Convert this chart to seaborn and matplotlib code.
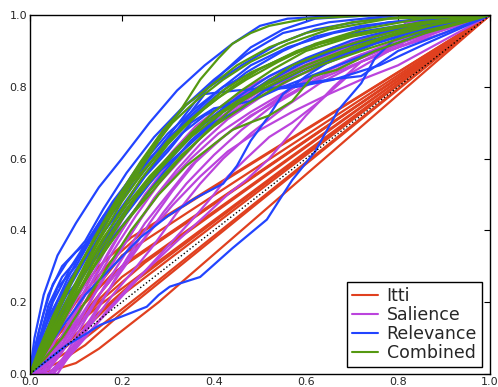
import matplotlib
matplotlib.use("Agg")
import matplotlib.pyplot as plt
import pandas as pd
import seaborn as sns

# ROC curves (false positive rate, true positive rate), one list per curve
itti_curves = [
    [(0, 0), (0.02, 0.05), (0.08, 0.18), (0.15, 0.30), (0.22, 0.38), (1, 1)],
    [(0, 0), (0.03, 0.06), (0.10, 0.20), (0.18, 0.32), (0.25, 0.40), (1, 1)],
    [(0, 0), (0.04, 0.05), (0.12, 0.20), (0.20, 0.33), (1, 1)],
    [(0, 0), (0.05, 0.08), (0.12, 0.17), (0.20, 0.27), (1, 1)],
    [(0, 0), (0.05, 0.07), (0.15, 0.20), (0.25, 0.31), (1, 1)],
    [(0, 0), (0.06, 0.06), (0.14, 0.16), (0.22, 0.25), (1, 1)],
    [(0, 0), (0.04, 0.03), (0.10, 0.10), (0.18, 0.20), (1, 1)],
    [(0, 0), (0.06, 0.03), (0.12, 0.08), (0.20, 0.17), (1, 1)],
    [(0, 0), (0.05, 0.01), (0.10, 0.03), (0.15, 0.07), (0.20, 0.12), (0.28, 0.20), (1, 1)],
    [(0, 0), (0.08, 0.06), (0.16, 0.14), (0.24, 0.22), (1, 1)],
    [(0, 0), (0.03, 0.04), (0.10, 0.14), (0.20, 0.30), (1, 1)],
    [(0, 0), (0.02, 0.04), (0.10, 0.17), (0.18, 0.28), (1, 1)],
    [(0, 0), (0.05, 0.09), (0.14, 0.23), (0.22, 0.32), (1, 1)],
    [(0, 0), (0.07, 0.10), (0.15, 0.19), (1, 1)],
]

salience_curves = [
    [(0, 0), (0.04, 0.0), (0.06, 0.02), (0.09, 0.08), (0.12, 0.15), (0.16, 0.24), (0.2, 0.32), (0.25, 0.42), (0.3, 0.5), (0.35, 0.58), (0.4, 0.64), (0.46, 0.7), (0.53, 0.76), (0.6, 0.82), (0.7, 0.88), (0.8, 0.93), (0.9, 0.97), (1, 1)],
    [(0, 0), (0.03, 0.01), (0.06, 0.06), (0.1, 0.15), (0.14, 0.25), (0.18, 0.34), (0.23, 0.44), (0.28, 0.53), (0.33, 0.6), (0.38, 0.67), (0.44, 0.73), (0.5, 0.78), (0.58, 0.84), (0.67, 0.89), (0.78, 0.94), (0.9, 0.98), (1, 1)],
    [(0, 0), (0.05, 0.0), (0.07, 0.03), (0.1, 0.08), (0.14, 0.15), (0.18, 0.22), (0.22, 0.28), (0.27, 0.36), (0.32, 0.45), (0.37, 0.53), (0.42, 0.6), (0.48, 0.67), (0.55, 0.74), (0.63, 0.81), (0.72, 0.87), (0.82, 0.93), (1, 1)],
    [(0, 0), (0.05, 0.0), (0.08, 0.04), (0.12, 0.1), (0.17, 0.18), (0.22, 0.25), (0.27, 0.31), (0.32, 0.37), (0.38, 0.44), (0.43, 0.5), (0.47, 0.54), (0.52, 0.6), (0.56, 0.66), (0.6, 0.72), (0.66, 0.8), (0.72, 0.87), (0.8, 0.91), (0.9, 0.96), (1, 1)],
    [(0, 0), (0.02, 0.01), (0.05, 0.06), (0.08, 0.13), (0.12, 0.22), (0.16, 0.31), (0.2, 0.4), (0.25, 0.5), (0.3, 0.58), (0.36, 0.66), (0.42, 0.72), (0.49, 0.78), (0.57, 0.84), (0.66, 0.89), (0.77, 0.94), (0.88, 0.97), (1, 1)],
    [(0, 0), (0.04, 0.01), (0.07, 0.06), (0.11, 0.14), (0.15, 0.22), (0.2, 0.3), (0.25, 0.38), (0.31, 0.47), (0.37, 0.55), (0.43, 0.62), (0.5, 0.68), (0.57, 0.73), (0.65, 0.78), (0.72, 0.82), (0.8, 0.86), (0.9, 0.93), (1, 1)],
    [(0, 0), (0.03, 0.0), (0.06, 0.05), (0.1, 0.13), (0.14, 0.22), (0.19, 0.33), (0.24, 0.43), (0.29, 0.52), (0.35, 0.6), (0.41, 0.67), (0.48, 0.73), (0.56, 0.79), (0.64, 0.84), (0.72, 0.89), (0.81, 0.92), (0.815, 0.98), (0.9, 0.99), (1, 1)],
    [(0, 0), (0.02, 0.0), (0.05, 0.04), (0.09, 0.12), (0.13, 0.2), (0.17, 0.29), (0.22, 0.39), (0.27, 0.49), (0.32, 0.57), (0.37, 0.64), (0.43, 0.71), (0.5, 0.77), (0.58, 0.83), (0.68, 0.89), (0.8, 0.95), (1, 1)],
    [(0, 0), (0.05, 0.0), (0.08, 0.05), (0.11, 0.11), (0.15, 0.19), (0.19, 0.27), (0.24, 0.36), (0.29, 0.45), (0.34, 0.53), (0.4, 0.61), (0.46, 0.68), (0.53, 0.75), (0.61, 0.81), (0.7, 0.86), (0.8, 0.91), (0.9, 0.95), (1, 1)],
    [(0, 0), (0.03, 0.02), (0.06, 0.08), (0.09, 0.16), (0.13, 0.26), (0.17, 0.36), (0.21, 0.45), (0.26, 0.54), (0.31, 0.62), (0.36, 0.69), (0.42, 0.75), (0.49, 0.81), (0.57, 0.86), (0.66, 0.91), (0.77, 0.95), (0.88, 0.98), (1, 1)],
    [(0, 0), (0.04, 0.0), (0.07, 0.04), (0.11, 0.09), (0.16, 0.16), (0.21, 0.23), (0.26, 0.3), (0.31, 0.37), (0.36, 0.44), (0.4, 0.5), (0.43, 0.55), (0.47, 0.6), (0.52, 0.66), (0.57, 0.7), (0.63, 0.76), (0.7, 0.84), (0.78, 0.9), (0.88, 0.95), (1, 1)],
    [(0, 0), (0.03, 0.01), (0.06, 0.07), (0.1, 0.17), (0.14, 0.27), (0.18, 0.36), (0.23, 0.46), (0.28, 0.55), (0.33, 0.62), (0.38, 0.68), (0.44, 0.74), (0.5, 0.79), (0.56, 0.82), (0.62, 0.85), (0.7, 0.9), (0.8, 0.95), (1, 1)],
    [(0, 0), (0.06, 0.0), (0.09, 0.06), (0.13, 0.14), (0.17, 0.23), (0.21, 0.32), (0.26, 0.42), (0.31, 0.51), (0.36, 0.59), (0.42, 0.66), (0.48, 0.72), (0.55, 0.77), (0.62, 0.82), (0.7, 0.87), (0.8, 0.92), (0.9, 0.96), (1, 1)],
    [(0, 0), (0.02, 0.02), (0.05, 0.08), (0.08, 0.16), (0.12, 0.25), (0.16, 0.35), (0.2, 0.44), (0.25, 0.53), (0.3, 0.6), (0.35, 0.67), (0.41, 0.73), (0.48, 0.79), (0.56, 0.84), (0.65, 0.89), (0.75, 0.94), (0.87, 0.98), (1, 1)],
]

relevance_curves = [
    [(0, 0), (0.01, 0.1), (0.03, 0.22), (0.06, 0.33), (0.1, 0.42), (0.15, 0.52), (0.2, 0.6), (0.26, 0.7), (0.32, 0.79), (0.38, 0.86), (0.44, 0.92), (0.5, 0.97), (0.56, 0.99), (0.7, 1), (1, 1)],
    [(0, 0), (0.02, 0.12), (0.04, 0.22), (0.07, 0.3), (0.1, 0.34), (0.13, 0.37), (0.17, 0.45), (0.22, 0.55), (0.28, 0.66), (0.34, 0.75), (0.4, 0.82), (0.47, 0.89), (0.55, 0.95), (0.65, 0.98), (0.8, 1), (1, 1)],
    [(0, 0), (0.02, 0.08), (0.05, 0.2), (0.09, 0.3), (0.13, 0.38), (0.18, 0.48), (0.24, 0.58), (0.3, 0.67), (0.36, 0.74), (0.42, 0.8), (0.5, 0.85), (0.6, 0.91), (0.7, 0.95), (0.85, 0.98), (1, 1)],
    [(0, 0), (0.01, 0.05), (0.04, 0.15), (0.08, 0.26), (0.12, 0.36), (0.16, 0.44), (0.2, 0.5), (0.26, 0.6), (0.32, 0.68), (0.38, 0.78), (0.45, 0.79), (0.55, 0.8), (0.65, 0.82), (0.72, 0.83), (0.8, 0.9), (0.9, 0.95), (1, 1)],
    [(0, 0), (0.03, 0.1), (0.06, 0.2), (0.1, 0.28), (0.15, 0.38), (0.2, 0.46), (0.25, 0.55), (0.3, 0.62), (0.35, 0.7), (0.4, 0.74), (0.48, 0.76), (0.55, 0.8), (0.65, 0.85), (0.75, 0.9), (0.88, 0.96), (1, 1)],
    [(0, 0), (0.02, 0.06), (0.06, 0.16), (0.1, 0.25), (0.14, 0.33), (0.19, 0.42), (0.24, 0.5), (0.3, 0.6), (0.36, 0.68), (0.44, 0.75), (0.52, 0.82), (0.6, 0.87), (0.7, 0.92), (0.8, 0.96), (1, 1)],
    [(0, 0), (0.03, 0.06), (0.07, 0.13), (0.12, 0.22), (0.18, 0.3), (0.24, 0.38), (0.3, 0.44), (0.36, 0.49), (0.42, 0.53), (0.45, 0.58), (0.48, 0.65), (0.52, 0.72), (0.55, 0.78), (0.6, 0.83), (0.645, 0.866), (0.75, 0.92), (0.88, 0.97), (1, 1)],
    [(0, 0), (0.04, 0.04), (0.08, 0.08), (0.12, 0.11), (0.152, 0.136), (0.2, 0.16), (0.254, 0.187), (0.28, 0.22), (0.304, 0.243), (0.37, 0.27), (0.44, 0.35), (0.515, 0.43), (0.57, 0.54), (0.62, 0.62), (0.67, 0.735), (0.72, 0.81), (0.75, 0.88), (0.79, 0.93), (0.9, 0.97), (1, 1)],
    [(0, 0), (0.02, 0.1), (0.05, 0.18), (0.09, 0.27), (0.13, 0.35), (0.17, 0.43), (0.22, 0.52), (0.27, 0.6), (0.33, 0.69), (0.4, 0.77), (0.47, 0.84), (0.55, 0.9), (0.62, 0.94), (0.72, 0.97), (0.85, 0.99), (1, 1)],
    [(0, 0), (0.01, 0.07), (0.03, 0.17), (0.05, 0.25), (0.08, 0.31), (0.12, 0.37), (0.16, 0.46), (0.21, 0.56), (0.27, 0.66), (0.33, 0.74), (0.39, 0.8), (0.46, 0.86), (0.54, 0.92), (0.62, 0.96), (0.75, 0.99), (1, 1)],
    [(0, 0), (0.03, 0.08), (0.07, 0.17), (0.11, 0.27), (0.16, 0.37), (0.21, 0.46), (0.27, 0.55), (0.33, 0.62), (0.4, 0.7), (0.46, 0.74), (0.52, 0.8), (0.6, 0.85), (0.7, 0.9), (0.82, 0.95), (1, 1)],
    [(0, 0), (0.02, 0.05), (0.05, 0.13), (0.09, 0.22), (0.14, 0.32), (0.2, 0.43), (0.26, 0.53), (0.32, 0.62), (0.38, 0.7), (0.45, 0.77), (0.52, 0.83), (0.6, 0.88), (0.7, 0.93), (0.82, 0.97), (1, 1)],
    [(0, 0), (0.02, 0.09), (0.04, 0.19), (0.07, 0.27), (0.11, 0.33), (0.15, 0.41), (0.2, 0.5), (0.25, 0.58), (0.3, 0.66), (0.36, 0.76), (0.42, 0.84), (0.48, 0.91), (0.55, 0.96), (0.62, 0.99), (0.75, 1), (1, 1)],
    [(0, 0), (0.02, 0.07), (0.05, 0.16), (0.09, 0.25), (0.13, 0.34), (0.18, 0.43), (0.23, 0.52), (0.28, 0.6), (0.33, 0.67), (0.38, 0.72), (0.44, 0.76), (0.5, 0.79), (0.58, 0.8), (0.66, 0.82), (0.76, 0.86), (0.86, 0.92), (1, 1)],
    [(0, 0), (0.01, 0.04), (0.03, 0.14), (0.06, 0.24), (0.1, 0.3), (0.14, 0.39), (0.19, 0.49), (0.24, 0.57), (0.29, 0.64), (0.35, 0.72), (0.41, 0.79), (0.48, 0.86), (0.56, 0.91), (0.66, 0.95), (0.78, 0.98), (1, 1)],
    [(0, 0), (0.04, 0.12), (0.08, 0.22), (0.13, 0.3), (0.18, 0.38), (0.23, 0.46), (0.29, 0.56), (0.35, 0.65), (0.42, 0.73), (0.5, 0.8), (0.58, 0.86), (0.68, 0.91), (0.8, 0.95), (1, 1)],
]

combined_curves = [
    [(0, 0), (0.02, 0.05), (0.05, 0.13), (0.09, 0.23), (0.13, 0.33), (0.18, 0.45), (0.23, 0.55), (0.28, 0.65), (0.33, 0.74), (0.37, 0.82), (0.41, 0.88), (0.44, 0.92), (0.48, 0.95), (0.52, 0.97), (0.6, 0.99), (0.75, 1), (1, 1)],
    [(0, 0), (0.02, 0.04), (0.06, 0.13), (0.1, 0.23), (0.14, 0.33), (0.19, 0.44), (0.24, 0.54), (0.3, 0.64), (0.36, 0.72), (0.42, 0.79), (0.48, 0.84), (0.55, 0.88), (0.63, 0.92), (0.73, 0.95), (0.85, 0.98), (1, 1)],
    [(0, 0), (0.03, 0.05), (0.07, 0.14), (0.11, 0.24), (0.15, 0.34), (0.2, 0.44), (0.25, 0.53), (0.3, 0.6), (0.35, 0.67), (0.4, 0.73), (0.46, 0.79), (0.53, 0.85), (0.6, 0.9), (0.7, 0.94), (0.82, 0.97), (1, 1)],
    [(0, 0), (0.03, 0.04), (0.07, 0.1), (0.12, 0.2), (0.17, 0.3), (0.22, 0.4), (0.28, 0.5), (0.34, 0.58), (0.4, 0.64), (0.44, 0.68), (0.478, 0.7), (0.52, 0.72), (0.57, 0.76), (0.615, 0.83), (0.667, 0.847), (0.75, 0.9), (0.86, 0.95), (1, 1)],
    [(0, 0), (0.02, 0.06), (0.05, 0.15), (0.09, 0.26), (0.13, 0.35), (0.17, 0.44), (0.22, 0.53), (0.27, 0.6), (0.32, 0.67), (0.38, 0.74), (0.44, 0.8), (0.5, 0.85), (0.58, 0.9), (0.68, 0.94), (0.8, 0.97), (1, 1)],
    [(0, 0), (0.03, 0.07), (0.06, 0.15), (0.1, 0.25), (0.15, 0.37), (0.2, 0.48), (0.25, 0.57), (0.3, 0.65), (0.35, 0.71), (0.41, 0.77), (0.47, 0.82), (0.54, 0.87), (0.62, 0.92), (0.72, 0.96), (0.85, 0.99), (1, 1)],
    [(0, 0), (0.02, 0.03), (0.05, 0.1), (0.09, 0.19), (0.13, 0.28), (0.18, 0.39), (0.23, 0.49), (0.29, 0.58), (0.35, 0.66), (0.42, 0.73), (0.5, 0.79), (0.58, 0.84), (0.67, 0.89), (0.78, 0.94), (0.9, 0.98), (1, 1)],
    [(0, 0), (0.02, 0.07), (0.05, 0.16), (0.08, 0.24), (0.12, 0.33), (0.16, 0.42), (0.21, 0.52), (0.26, 0.62), (0.31, 0.7), (0.36, 0.76), (0.42, 0.82), (0.48, 0.87), (0.56, 0.92), (0.65, 0.96), (0.78, 0.99), (1, 1)],
    [(0, 0), (0.03, 0.06), (0.07, 0.16), (0.11, 0.27), (0.16, 0.38), (0.21, 0.47), (0.26, 0.55), (0.32, 0.63), (0.38, 0.7), (0.45, 0.76), (0.52, 0.81), (0.6, 0.86), (0.7, 0.91), (0.82, 0.96), (1, 1)],
    [(0, 0), (0.02, 0.05), (0.06, 0.14), (0.1, 0.22), (0.15, 0.32), (0.2, 0.41), (0.26, 0.5), (0.32, 0.59), (0.38, 0.67), (0.44, 0.74), (0.5, 0.8), (0.57, 0.86), (0.65, 0.9), (0.75, 0.94), (0.87, 0.98), (1, 1)],
    [(0, 0), (0.03, 0.08), (0.06, 0.17), (0.1, 0.28), (0.14, 0.38), (0.19, 0.49), (0.24, 0.59), (0.29, 0.68), (0.34, 0.75), (0.39, 0.8), (0.45, 0.86), (0.52, 0.91), (0.6, 0.95), (0.7, 0.98), (0.85, 1), (1, 1)],
    [(0, 0), (0.02, 0.04), (0.05, 0.12), (0.09, 0.2), (0.14, 0.3), (0.2, 0.41), (0.26, 0.51), (0.33, 0.61), (0.4, 0.69), (0.47, 0.75), (0.55, 0.81), (0.63, 0.86), (0.72, 0.9), (0.84, 0.95), (1, 1)],
]

methods = ["Itti", "Salience", "Relevance", "Combined"]
colors = ["#e0401f", "#bb44dd", "#2244ff", "#559911"]

# long table: one row per point
rows = []
for method, curves in zip(methods, [itti_curves, salience_curves, relevance_curves, combined_curves]):
    for k, curve in enumerate(curves):
        for order, (fpr, tpr) in enumerate(curve):
            rows.append({"method": method, "curve": f"{method}{k}", "order": order,
                         "fpr": fpr, "tpr": tpr})
df = pd.DataFrame(rows)

sns.set_style("white")
plt.rcParams["font.family"] = ["DejaVu Sans"]

fig = plt.figure(figsize=(4.98, 3.87), dpi=100)
ax = fig.add_axes([0.060, 0.034, 0.924, 0.927])

sns.lineplot(data=df, x="fpr", y="tpr", hue="method", units="curve",
             hue_order=methods, palette=colors, estimator=None, sort=False,
             linewidth=1.6, ax=ax)

# chance line, drawn over the curves
ax.plot([0, 1], [0, 1], color="black", linestyle=":", linewidth=1.0, zorder=3)

ax.set_xlim(0, 1)
ax.set_ylim(0, 1)
ax.set_xlabel("")
ax.set_ylabel("")
ticks = [0.0, 0.2, 0.4, 0.6, 0.8, 1.0]
ax.set_xticks(ticks)
ax.set_yticks(ticks)
ax.set_xticklabels([f"{t:.1f}" for t in ticks])
ax.set_yticklabels([f"{t:.1f}" for t in ticks])
ax.tick_params(direction="in", length=4, width=0.8, labelsize=8,
               top=True, right=True, pad=2, color="black")
for s in ax.spines.values():
    s.set_color("black")
    s.set_linewidth(1.0)

handles, labels = ax.get_legend_handles_labels()
leg = ax.legend(handles, labels, loc="lower right", fontsize=12.5,
                handlelength=1.5, handletextpad=0.5, labelspacing=0.05,
                borderpad=0.3, borderaxespad=0, fancybox=False, framealpha=1,
                bbox_to_anchor=(0.983, 0.0195))
leg.get_frame().set_edgecolor("black")
leg.get_frame().set_linewidth(1.0)
for line in leg.get_lines():
    line.set_linewidth(1.5)

fig.savefig("out.png", dpi=100)
